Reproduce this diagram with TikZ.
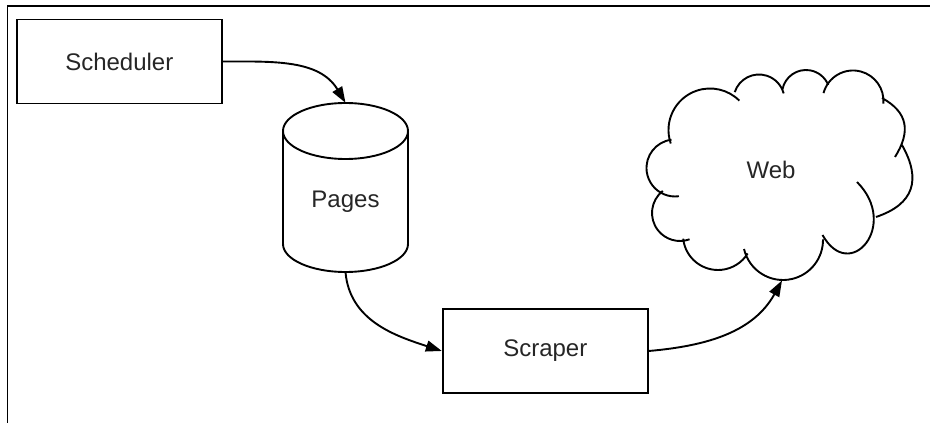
\documentclass[tikz,border=0pt]{standalone}
\usepackage{fontspec}
\setmainfont{Liberation Sans}
\usetikzlibrary{arrows.meta}
\begin{document}
\begin{tikzpicture}[x=1pt,y=1pt,
  box/.style={draw, line width=1.9pt, minimum width=205pt, minimum height=84pt, inner sep=0pt},
  txt/.style={font=\fontsize{24}{28}\selectfont, text=black!85},
  conn/.style={line width=1.9pt, -{Triangle[length=16pt,width=11pt]}},
  shapeline/.style={line width=1.9pt},
  frameline/.style={line width=1.3pt}]
\useasboundingbox (0,0) rectangle (930,423);
% frame
\draw[frameline] (7.5,0) -- (7.5,417) -- (930,417);
% scheduler
\node[box,txt] (sched) at (119.3,361.5) {Scheduler};
% pages cylinder
\node[minimum width=125pt,minimum height=169pt,inner sep=0pt] (pages) at (345.5,235.5) {};
\draw[shapeline] (345.5,292) ellipse [x radius=62.5pt, y radius=28pt];
\draw[shapeline] (283,292) -- (283,179) arc[start angle=180,end angle=360,x radius=62.5pt,y radius=28pt] -- (408,292);
\node[txt] (pagestxt) at (345.5,221) {Pages};
% scraper
\node[box,txt] (scraper) at (545.3,72) {Scraper};
% web cloud
\node[txt] (web) at (771,253) {Web};
\coordinate (webbottom) at (782,142.5);
\draw[shapeline]
  (675,255) ++(97:28.5pt) arc[start angle=97,end angle=278,radius=28.5pt]
  (680,210) ++(128:28pt) arc[start angle=128,end angle=290,radius=28pt]
  (718,188) ++(186:35pt) arc[start angle=186,end angle=328,radius=35pt]
  (783,183) ++(193:40pt) arc[start angle=193,end angle=361,radius=40pt]
  (857,241) .. controls (900,198) and (850,139) .. (822.5,188)
  (902,278) .. controls (921.6,243.2) and (914,218.8) .. (876,206)
  (882,325) .. controls (908.1,310.6) and (910.9,291.5) .. (895,266)
  (853,322) ++(165:30.5pt) arc[start angle=165,end angle=-5,radius=30.5pt]
  (806,329) ++(170:24pt) arc[start angle=170,end angle=22,radius=24pt]
  (759,323) ++(162:25.5pt) arc[start angle=162,end angle=15,radius=25.5pt]
  (710,293) ++(199:41.5pt) arc[start angle=199,end angle=45,radius=41.5pt];
% connectors
\draw[conn] (sched.east) to[out=0,in=121] (pages.north);
\draw[conn] (pages.south) to[out=-85,in=162] (scraper.west);
\draw[conn] (scraper.east) to[out=5,in=-119] (webbottom);
\end{tikzpicture}
\end{document}
